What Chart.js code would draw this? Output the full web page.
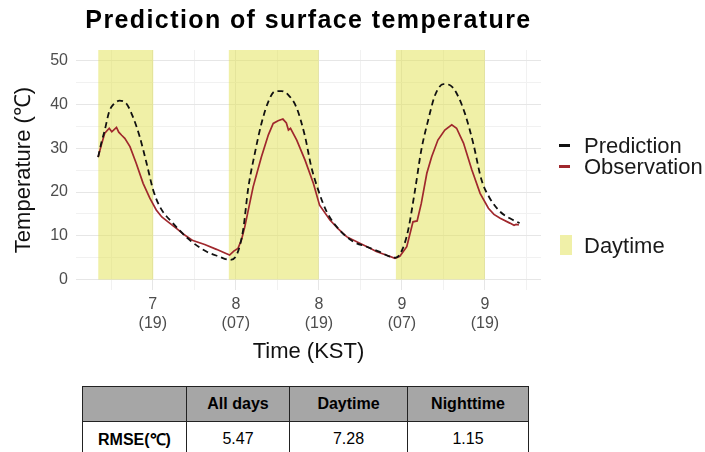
<!DOCTYPE html>
<html>
<head>
<meta charset="utf-8">
<script src="https://cdn.jsdelivr.net/npm/chart.js@4.4.0/dist/chart.umd.min.js"></script>
<style>
  body { margin: 0; background: #fff; font-family: 'Liberation Sans', Arial, sans-serif; }
  #wrap { position: relative; width: 705px; height: 452px; overflow: hidden; }
  #chartBox { position: absolute; left: 0; top: 0; width: 705px; height: 375px; }
  #titulo { position: absolute; left: 0; width: 617px; top: 5px; text-align: center;
    font-size: 25px; font-weight: bold; letter-spacing: 1.4px; color: #000; }
  .leg { position: absolute; font-size: 22px; color: #1a1a1a; line-height: 21px; }
  .key { position: absolute; }
  #tabela { position: absolute; left: 82px; top: 386px; border-collapse: collapse; font-size: 16px; }
  #tabela td { border: 1.5px solid #222; text-align: center; padding: 0; }
  #tabela tr.cab td { background: #a6a6a6; font-weight: bold; height: 34px; }
  #tabela tr.lin td { height: 33px; }
</style>
</head>
<body>
<div id="wrap">
  <div id="chartBox"><canvas id="grafico" width="705" height="375"></canvas></div>
  <div id="titulo">Prediction of surface temperature</div>

  <div class="key" style="left:559px; top:144px; width:11px; height:3px; background:#111;"></div>
  <div class="leg" style="left:584px; top:135px;">Prediction</div>
  <div class="key" style="left:559px; top:165px; width:11px; height:3px; background:#a0282d;"></div>
  <div class="leg" style="left:584px; top:156px;">Observation</div>
  <div class="key" style="left:560px; top:235px; width:12px; height:20px; background:#f0f0a8;"></div>
  <div class="leg" style="left:584px; top:235px;">Daytime</div>

  <table id="tabela">
    <tr class="cab">
      <td style="width:103px"></td>
      <td style="width:102px">All days</td>
      <td style="width:117px">Daytime</td>
      <td style="width:120px">Nighttime</td>
    </tr>
    <tr class="lin" id="linhaRmse"></tr>
  </table>
</div>

<script>
// horas contadas a partir do dia 7 00h (KST)
const obsHoras = [11.1, 11.6, 12.06, 12.7, 13.07, 13.75, 14.08, 14.5, 14.95, 15.7, 16.6, 17.6, 18.57, 19.5, 20.3, 21.2, 22.5, 23.5, 24.8, 26.5, 28.2, 29.5, 30.1, 30.7, 31.3, 31.8, 32.3, 33.5, 34.7, 35.7, 36.4, 37.1, 37.8, 38.3, 38.6, 38.9, 39.8, 41.0, 42.2, 43.1, 44.6, 45.8, 47.0, 48.9, 50.2, 51.3, 52.7, 54.0, 54.7, 55.7, 56.6, 57.2, 57.8, 58.6, 59.3, 60.2, 61.2, 62.2, 62.9, 63.9, 65.1, 66.3, 67.5, 68.3, 69.2, 70.6, 71.2, 71.5, 71.9]
const obsTemp = [28.0, 31.0, 33.5, 34.6, 33.8, 34.8, 33.7, 33.0, 32.3, 30.4, 26.6, 22.0, 18.6, 15.9, 14.3, 13.2, 11.6, 10.3, 8.9, 8.0, 6.9, 6.0, 5.6, 6.5, 7.1, 9.0, 12.1, 21.2, 28.1, 33.1, 35.7, 36.3, 36.7, 35.8, 34.2, 34.6, 31.9, 27.3, 22.0, 17.0, 13.6, 11.6, 9.8, 8.3, 7.3, 6.4, 5.6, 4.85, 5.3, 7.5, 13.2, 13.4, 17.4, 24.3, 28.1, 31.9, 34.2, 35.4, 34.6, 31.2, 25.1, 19.7, 16.3, 14.9, 14.0, 12.9, 12.4, 12.6, 12.5]

const predHoras = [11.1, 11.6, 12.06, 12.7, 13.4, 14.2, 15.2, 16.1, 17.1, 18.1, 19.05, 20.0, 21.9, 24.35, 26.75, 28.5, 30.1, 31.1, 32.05, 32.8, 33.75, 34.7, 35.7, 36.6, 37.6, 38.6, 39.8, 41.0, 41.9, 42.9, 44.1, 46.0, 48.0, 49.9, 51.5, 54.1, 55.1, 55.9, 56.9, 57.8, 58.8, 59.8, 61.0, 61.9, 62.9, 64.1, 65.3, 66.5, 67.7, 69.2, 70.6, 72.0]
const predTemp = [28.0, 31.5, 34.2, 38.4, 40.2, 40.9, 40.2, 37.3, 32.7, 26.6, 20.5, 16.7, 12.9, 9.0, 6.4, 5.3, 4.5, 5.6, 11.3, 21.0, 28.9, 35.7, 40.7, 43.0, 43.1, 42.2, 39.2, 32.7, 25.8, 20.5, 15.6, 11.3, 8.65, 7.5, 6.5, 5.0, 7.0, 11.3, 20.5, 29.6, 36.5, 42.2, 44.7, 44.5, 42.6, 38.0, 31.2, 22.8, 18.6, 15.5, 14.0, 12.9]

const diaInicio = [11.1, 29.95, 54.1]
const diaFim = [19.1, 43.0, 67.0]

const tickHoras = [19, 31, 43, 55, 67]
const tickDias = ["7", "8", "8", "9", "9"]
const tickHoraLabel = ["(19)", "(07)", "(19)", "(07)", "(19)"]
const gradeMenorX = [13, 25, 37, 49, 61, 73]

const yTicks = [0, 5, 10, 15, 20, 25, 30, 35, 40, 45, 50]
const yMin = -2.4
const yMax = 52.5

const rmseValores = ["5.47", "7.28", "1.15"]

// linha da tabela
const linha = document.getElementById("linhaRmse")
linha.innerHTML = '<td style="font-weight:bold">RMSE(℃)</td>' +
  rmseValores.map(v => '<td>' + v + '</td>').join('')

const pontos = (xs, ys) => xs.map((x, i) => ({ x: x, y: ys[i] }))

const faixas = diaInicio.map((ini, i) => ({
  type: 'line',
  data: [{ x: ini, y: yMax }, { x: diaFim[i], y: yMax }],
  fill: 'origin',
  backgroundColor: 'rgba(225, 225, 80, 0.5)',
  borderWidth: 0,
  pointRadius: 0,
  order: 10
}))

const fonteEixo = { family: "'Liberation Sans', Arial, sans-serif", size: 16 }
const fonteTitulo = { family: "'Liberation Sans', Arial, sans-serif", size: 22 }

new Chart(document.getElementById("grafico"), {
  type: 'line',
  data: {
    datasets: [
      {
        label: 'Prediction',
        data: pontos(predHoras, predTemp),
        borderColor: '#111',
        borderWidth: 1.8,
        borderDash: [6, 4],
        pointRadius: 0,
        cubicInterpolationMode: 'monotone',
        fill: false,
        order: 0
      },
      {
        label: 'Observation',
        data: pontos(obsHoras, obsTemp),
        borderColor: '#a0282d',
        borderWidth: 1.7,
        pointRadius: 0,
        tension: 0,
        fill: false,
        order: 1
      },
      ...faixas
    ]
  },
  options: {
    responsive: false,
    animation: false,
    layout: { padding: { left: 0, right: 164, top: 50, bottom: 0 } },
    plugins: {
      legend: { display: false },
      tooltip: { enabled: false }
    },
    scales: {
      x: {
        type: 'linear',
        min: 7.9,
        max: 75.1,
        afterBuildTicks: escala => {
          escala.ticks = tickHoras.concat(gradeMenorX).sort((a, b) => a - b).map(v => ({ value: v }))
        },
        afterFit: escala => { escala.height = 85 },
        border: { display: false },
        grid: {
          drawTicks: false,
          color: ctx => tickHoras.includes(ctx.tick.value) ? '#e6e6e6' : '#f1f1f1',
          lineWidth: 1
        },
        ticks: {
          padding: 5,
          color: '#4d4d4d',
          font: fonteEixo,
          autoSkip: false,
          maxRotation: 0,
          callback: v => {
            const i = tickHoras.indexOf(v)
            return i >= 0 ? [tickDias[i], tickHoraLabel[i]] : ''
          }
        },
        title: {
          display: true,
          text: 'Time (KST)',
          color: '#111',
          font: fonteTitulo,
          padding: { top: 0, bottom: 10 }
        }
      },
      y: {
        min: yMin,
        max: yMax,
        afterBuildTicks: escala => {
          escala.ticks = yTicks.map(v => ({ value: v }))
        },
        afterFit: escala => { escala.width = 76 },
        border: { display: false },
        grid: {
          drawTicks: false,
          color: ctx => ctx.tick.value % 10 === 0 ? '#e6e6e6' : '#f1f1f1',
          lineWidth: 1
        },
        ticks: {
          padding: 8,
          color: '#4d4d4d',
          font: fonteEixo,
          callback: v => v % 10 === 0 ? v : ''
        },
        title: {
          display: true,
          text: 'Temperature (℃)',
          color: '#111',
          font: fonteTitulo,
          padding: { top: 11, bottom: 0 }
        }
      }
    }
  }
})
</script>
</body>
</html>
